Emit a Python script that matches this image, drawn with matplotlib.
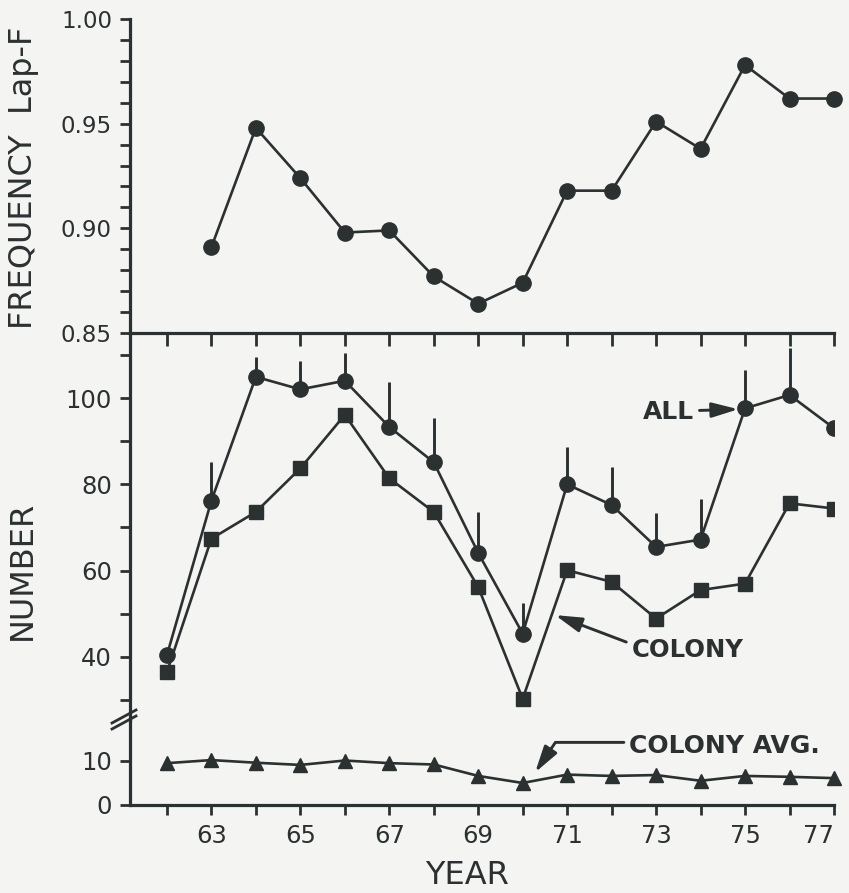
import matplotlib
matplotlib.use('Agg')
import matplotlib.pyplot as plt
from matplotlib.lines import Line2D
from matplotlib.ticker import FixedLocator, NullFormatter

# data
years = list(range(62, 78))
freq_years = list(range(63, 78))
freq_lapf = [0.891, 0.948, 0.924, 0.898, 0.899, 0.877, 0.864, 0.874,
             0.918, 0.918, 0.951, 0.938, 0.978, 0.962, 0.962]
num_all = [40.4, 76.2, 104.9, 102.0, 104.0, 93.3, 85.1, 64.1,
           45.4, 80.0, 75.2, 65.5, 67.2, 97.6, 100.7, 93.0]
all_err_up = [0, 9.0, 4.7, 6.6, 6.4, 10.5, 10.2, 9.6,
              7.0, 8.7, 8.7, 7.9, 9.5, 8.9, 10.8, 0]
all_err_lo = [0] * 16
num_colony = [36.5, 67.4, 73.6, 83.7, 96.1, 81.4, 73.6, 56.2,
              30.3, 60.1, 57.4, 48.9, 55.5, 57.0, 75.6, 74.4]
colony_avg = [9.5, 10.2, 9.6, 9.1, 10.1, 9.5, 9.2, 6.6,
              5.0, 6.9, 6.6, 6.8, 5.5, 6.6, 6.4, 6.1]

freq_ticks = [0.85, 0.90, 0.95, 1.00]
num_ticks = [40, 60, 80, 100]
year_labels = [63, 65, 67, 69, 71, 73, 75, 77]

ink = '#2b3031'
paper = '#f4f4f2'
W, H = 849, 893

plt.rcParams['font.family'] = ['DejaVu Sans']
fig = plt.figure(figsize=(W / 100, H / 100), dpi=100, facecolor=paper)


def px_box(x0, y0, x1, y1):
    return [x0 / W, 1 - y1 / H, (x1 - x0) / W, (y1 - y0) / H]


ax_f = fig.add_axes(px_box(130, 19, 834, 333))
ax_n = fig.add_axes(px_box(130, 333, 834, 720))
ax_c = fig.add_axes(px_box(130, 720, 834, 805))

for ax in (ax_f, ax_n, ax_c):
    ax.set_facecolor('none')
    ax.set_xlim(61.17, 77.0)
    for s in ax.spines.values():
        s.set_color(ink)
        s.set_linewidth(2.3)
    ax.spines['right'].set_visible(False)
    ax.tick_params(colors=ink, width=2.0, length=7, which='both')

# ---- top panel: frequency of Lap-F
ax_f.spines['top'].set_visible(False)
ax_f.plot(freq_years, freq_lapf, color=ink, lw=1.9, marker='o', ms=11,
          clip_on=False, zorder=3)
ax_f.set_ylim(0.85, 1.00)
ax_f.yaxis.set_major_locator(FixedLocator(freq_ticks))
ax_f.yaxis.set_minor_locator(FixedLocator([0.85 + 0.01 * i for i in range(16)]))
ax_f.set_yticklabels(['%.2f' % v for v in freq_ticks])
ax_f.tick_params(axis='y', which='both', direction='out', pad=6, labelsize=16.5)
ax_f.set_xticks([])

# ---- middle panel: numbers
ax_n.spines['top'].set_visible(False)
ax_n.spines['bottom'].set_visible(False)
ax_n.errorbar(years, num_all, yerr=[all_err_lo, all_err_up], fmt='none',
              ecolor=ink, elinewidth=2.1, capsize=0, zorder=2)
ax_n.plot(years, num_all, color=ink, lw=1.9, marker='o', ms=11, zorder=3)
ax_n.plot(years, num_colony, color=ink, lw=1.9, marker='s', ms=10, zorder=3)
ax_n.set_ylim(25.4, 115.06)
ax_n.yaxis.set_major_locator(FixedLocator(num_ticks))
ax_n.yaxis.set_minor_locator(FixedLocator([30, 50, 70, 90, 110]))
ax_n.tick_params(axis='y', which='both', direction='out', pad=6, labelsize=17.5)
ax_n.xaxis.set_ticks_position('top')
ax_n.set_xticks(years)
ax_n.xaxis.set_major_formatter(NullFormatter())
ax_n.tick_params(axis='x', direction='in', length=9)

# ---- bottom panel: colony average
ax_c.spines['top'].set_visible(False)
ax_c.plot(years, colony_avg, color=ink, lw=1.9, marker='^', ms=10.5,
          clip_on=False, zorder=3)
ax_c.set_ylim(0, 19.3)
ax_c.set_yticks([0, 10])
ax_c.tick_params(axis='y', direction='out', pad=6, labelsize=17.5)
ax_c.xaxis.set_major_locator(FixedLocator(year_labels))
ax_c.xaxis.set_minor_locator(FixedLocator([y for y in years if y not in year_labels]))
ax_c.tick_params(axis='x', which='both', direction='out', length=7, pad=7,
                 labelsize=17.5)
for lab in ax_c.get_xticklabels():
    if lab.get_text() == '77':
        lab.set_horizontalalignment('right')
        lab.set_x(77.35)

# axis titles
fig.text(24 / W, 1 - 178 / H, 'FREQUENCY  Lap-F', rotation=90, ha='center',
         va='center', fontsize=23, color=ink)
fig.text(22 / W, 1 - 570 / H, 'NUMBER', rotation=90, ha='center',
         va='center', fontsize=23, color=ink)
fig.text(467 / W, 1 - 875 / H, 'YEAR', ha='center', va='center',
         fontsize=23, color=ink)

# labels with arrows
arrow = dict(arrowstyle='-|>,head_length=1.6,head_width=0.45', color=ink,
             lw=2.1, mutation_scale=10, shrinkA=2, shrinkB=0)
ax_n.annotate('ALL', xy=(74.85, 97.4), xytext=(73.85, 96.8), ha='right',
              va='center', fontsize=18, fontweight='bold', color=ink,
              arrowprops=dict(arrow, relpos=(1, 0.55)))
ax_n.annotate('COLONY', xy=(70.73, 49.7), xytext=(72.45, 41.6), ha='left',
              va='center', fontsize=17.5, fontweight='bold', color=ink,
              arrowprops=dict(arrow, relpos=(0, 0.75)))
ax_c.annotate('COLONY AVG.', xy=(70.28, 7.4), xytext=(72.4, 13.4), ha='left',
              va='center', fontsize=18, fontweight='bold', color=ink,
              annotation_clip=False,
              arrowprops=dict(arrow, relpos=(0, 0.65),
                              connectionstyle='angle,angleA=0,angleB=56,rad=0'))

# axis break marks on the left spine
for dy in (0, 6):
    fig.add_artist(Line2D([112 / W, 136 / W],
                          [1 - (729 - dy) / H, 1 - (716 - dy) / H],
                          color=ink, lw=2.0))

fig.savefig('out.png', dpi=100, facecolor=paper)
